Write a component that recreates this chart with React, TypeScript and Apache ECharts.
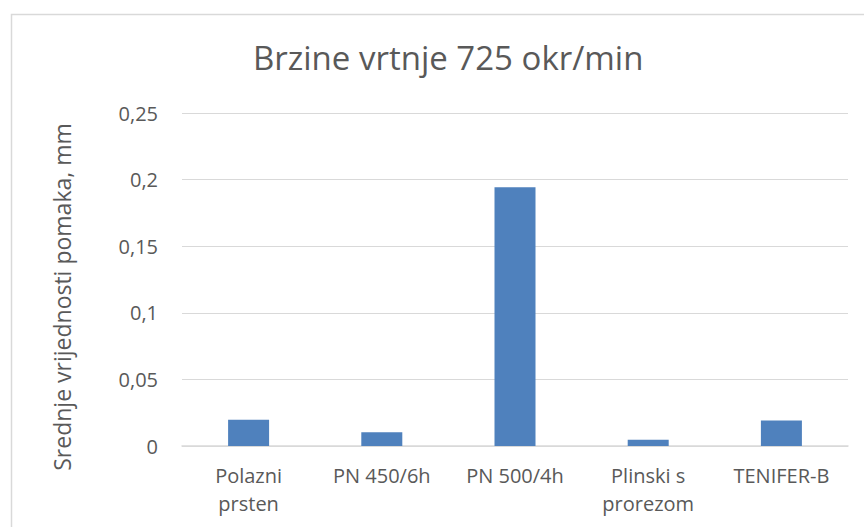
import React, { useEffect, useRef } from "react";
import * as echarts from "echarts";

const categories = ["Polazni\nprsten", "PN 450/6h", "PN 500/4h", "Plinski s\nprorezom", "TENIFER-B"];
const values = [0.0198, 0.0103, 0.1942, 0.0047, 0.0192];
const yTicks = { min: 0, max: 0.25, interval: 0.05 };
const titleText = "Brzine vrtnje 725 okr/min";
const yAxisName = "Srednje vrijednosti pomaka, mm";

export default function App() {
  const ref = useRef<HTMLDivElement>(null);
  useEffect(() => {
    const chart = echarts.init(ref.current!, null, { renderer: "svg" });
    const font = "'Open Sans', 'Noto Sans', sans-serif";
    chart.setOption({
      animation: false,
      backgroundColor: "#ffffff",
      textStyle: { fontFamily: font },
      graphic: [
        {
          type: "rect",
          shape: { x: 11.5, y: 14.5, width: 880, height: 530 },
          style: { fill: "none", stroke: "#d9d9d9", lineWidth: 1.5 },
          silent: true,
        },
        {
          type: "text",
          x: 62,
          y: 297,
          rotation: Math.PI / 2,
          style: {
            text: yAxisName,
            fill: "#595959",
            fontSize: 23,
            fontFamily: font,
            align: "center",
            verticalAlign: "middle",
          },
          silent: true,
        },
      ],
      title: {
        text: titleText,
        left: 248,
        top: 36,
        textStyle: { color: "#595959", fontSize: 33, fontWeight: "normal", fontFamily: font },
      },
      grid: { left: 182, right: 16, top: 113, bottom: 81 },
      xAxis: {
        type: "category",
        data: categories,
        axisLine: { show: true, lineStyle: { color: "#d9d9d9", width: 1.5 } },
        axisTick: { show: false },
        axisLabel: { color: "#595959", fontSize: 20, margin: 15, lineHeight: 28, fontFamily: font, interval: 0 },
      },
      yAxis: {
        type: "value",
        min: yTicks.min,
        max: yTicks.max,
        interval: yTicks.interval,
        axisLine: { show: false },
        axisTick: { show: false },
        splitLine: { lineStyle: { color: "#d9d9d9", width: 1 } },
        axisLabel: {
          color: "#595959",
          fontSize: 20,
          margin: 24,
          fontFamily: font,
          formatter: (v: number) => String(parseFloat(v.toFixed(2))).replace(".", ","),
        },
      },
      series: [
        {
          type: "bar",
          data: values,
          barWidth: 41,
          itemStyle: { color: "#4f81bd" },
        },
      ],
    });
    return () => chart.dispose();
  }, []);
  return <div ref={ref} style={{ position: "absolute", left: 0, top: 0, width: 864, height: 527 }} />;
}
